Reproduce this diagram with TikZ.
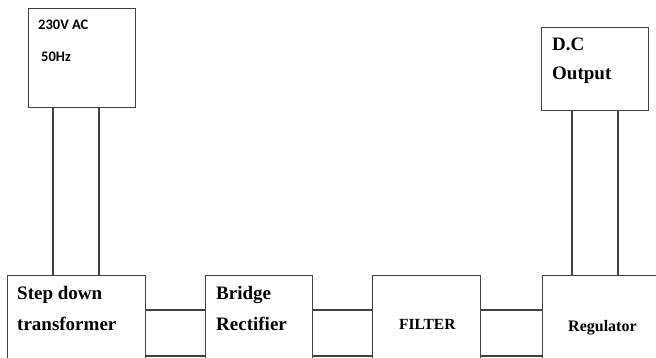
\documentclass[tikz,border=0pt]{standalone}
\usepackage{fontspec}
\setmainfont{Liberation Serif}
\newfontfamily\calibri{Carlito}
\usetikzlibrary{positioning}
\tikzset{
    blockbox/.style={draw=black!75, line width=1.2pt, rectangle, inner sep=0pt, anchor=north west},
    wire/.style={draw=black!75, line width=1.2pt},
    blocktext/.style={anchor=base west, inner sep=0pt, font=\bfseries\fontsize{19}{19}\selectfont},
    smalltext/.style={anchor=base west, inner sep=0pt, font=\calibri\bfseries\fontsize{14.5}{14.5}\selectfont},
}

\begin{document}
\begin{tikzpicture}[x=1pt,y=-1pt]
	\useasboundingbox (0,0) rectangle (656,358);
	\clip (0,0) rectangle (656,358);
	% blocks
	\node[blockbox, minimum width=107pt, minimum height=99pt] (ac) at (28,8) {};
	\node[blockbox, minimum width=107pt, minimum height=83pt] (dc) at (541,27) {};
	\node[blockbox, minimum width=138pt, minimum height=140pt] (step) at (7,275) {};
	\node[blockbox, minimum width=107pt, minimum height=140pt] (bridge) at (205,275) {};
	\node[blockbox, minimum width=108pt, minimum height=140pt] (filter) at (372,275) {};
	\node[blockbox, minimum width=140pt, minimum height=140pt] (reg) at (542,275) {};
	% texts
	\node[smalltext] (acv) at (38,30) {230V AC};
	\node[smalltext] (achz) at (41,62) {50Hz};
	\node[blocktext] (dcone) at (552,51) {D.C};
	\node[blocktext] (dctwo) at (552,80) {Output};
	\node[blocktext] (stepone) at (17,299) {Step down};
	\node[blocktext] (steptwo) at (17,330) {transformer};
	\node[blocktext] (bridgeone) at (216,299) {Bridge};
	\node[blocktext] (bridgetwo) at (216,330) {Rectifier};
	\node[blocktext, font=\bfseries\fontsize{15.5}{15.5}\selectfont] (filtertext) at (399,329) {FILTER};
	\node[blocktext, font=\bfseries\fontsize{16}{16}\selectfont] (regtext) at (568,331) {Regulator};
	% wires
	\draw[wire] ([xshift=25pt]ac.south west) -- ([xshift=25pt]ac.south west |- step.north);
	\draw[wire] ([xshift=71pt]ac.south west) -- ([xshift=71pt]ac.south west |- step.north);
	\draw[wire] ([xshift=31pt]dc.south west) -- ([xshift=31pt]dc.south west |- reg.north);
	\draw[wire] ([xshift=77pt]dc.south west) -- ([xshift=77pt]dc.south west |- reg.north);
	\draw[wire] ([yshift=-35pt]step.north east) -- ([yshift=-35pt]step.north east -| bridge.west);
	\draw[wire] ([yshift=-81pt]step.north east) -- ([yshift=-81pt]step.north east -| bridge.west);
	\draw[wire] ([yshift=-35pt]bridge.north east) -- ([yshift=-35pt]bridge.north east -| filter.west);
	\draw[wire] ([yshift=-81pt]bridge.north east) -- ([yshift=-81pt]bridge.north east -| filter.west);
	\draw[wire] ([yshift=-35pt]filter.north east) -- ([yshift=-35pt]filter.north east -| reg.west);
	\draw[wire] ([yshift=-81pt]filter.north east) -- ([yshift=-81pt]filter.north east -| reg.west);
\end{tikzpicture}
\end{document}
